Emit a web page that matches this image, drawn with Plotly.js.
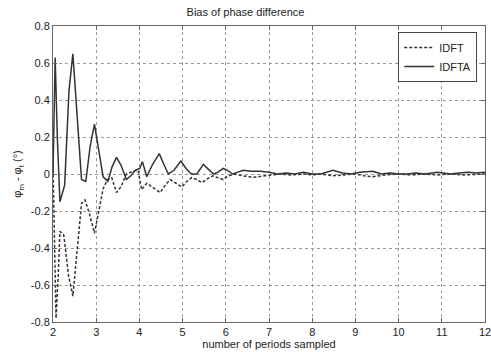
<!DOCTYPE html>
<html>
<head>
<meta charset="utf-8">
<script src="https://cdn.plot.ly/plotly-3.0.1.min.js"></script>
<style>html,body{margin:0;padding:0;background:#fff;}#chart{width:491px;height:352px;}</style>
</head>
<body>
<div id="chart"></div>
<script>
// IDFTA (solid)
const xIDFTA = [2.00,2.05,2.10,2.16,2.27,2.37,2.46,2.56,2.66,2.76,2.86,2.96,3.06,3.16,3.27,3.37,3.47,3.57,3.70,3.80,3.90,4.01,4.07,4.17,4.30,4.46,4.57,4.67,4.80,4.96,5.08,5.20,5.33,5.48,5.60,5.72,5.82,5.94,6.04,6.16,6.28,6.40,6.60,6.80,7.00,7.20,7.40,7.60,7.80,8.00,8.20,8.48,8.70,8.90,9.10,9.40,9.60,9.80,10.00,10.20,10.40,10.60,10.90,11.20,11.40,11.60,11.80,12.00];
const yIDFTA = [0.00,0.63,0.20,-0.15,-0.06,0.45,0.65,0.30,-0.03,-0.04,0.15,0.27,0.13,-0.015,-0.04,0.04,0.09,0.05,-0.03,-0.01,0.02,0.03,0.067,-0.015,0.05,0.11,0.05,0.00,0.02,0.07,0.03,0.00,0.00,0.052,0.025,0.00,0.01,0.03,0.02,0.00,0.01,0.02,0.015,0.015,0.01,0.00,0.005,0.00,0.01,0.00,0.00,0.02,0.005,0.00,0.01,0.015,0.00,0.005,0.00,0.00,0.005,0.00,0.01,0.00,0.005,0.01,0.005,0.01];
// IDFT (dashed)
const xIDFT = [2.00,2.03,2.07,2.12,2.16,2.25,2.36,2.46,2.56,2.66,2.74,2.85,2.96,3.06,3.16,3.26,3.36,3.47,3.57,3.70,3.85,3.97,4.05,4.17,4.30,4.48,4.60,4.71,4.85,4.98,5.10,5.21,5.33,5.44,5.58,5.70,5.82,5.94,6.06,6.20,6.40,6.63,6.90,7.25,7.50,7.80,8.00,8.20,8.48,8.70,9.00,9.20,9.40,9.70,10.00,10.30,10.60,10.90,11.20,11.50,11.80,12.00];
const yIDFT = [0.05,-0.40,-0.78,-0.55,-0.31,-0.33,-0.55,-0.66,-0.40,-0.16,-0.14,-0.22,-0.32,-0.20,-0.08,-0.03,-0.02,-0.10,-0.07,0.00,0.015,0.02,-0.085,-0.05,-0.07,-0.10,-0.06,-0.03,-0.05,-0.07,-0.04,-0.02,-0.03,-0.047,-0.025,-0.01,-0.02,-0.03,-0.01,0.00,-0.01,-0.018,-0.01,0.00,-0.005,0.00,-0.005,0.00,-0.01,-0.005,0.00,-0.01,-0.015,-0.005,0.00,-0.005,0.00,-0.005,0.00,-0.005,0.00,0.00];

const xTicks = [2,3,4,5,6,7,8,9,10,11,12];
const yTicks = [-0.8,-0.6,-0.4,-0.2,0,0.2,0.4,0.6,0.8];
const yTickLabels = ['-0.8','-0.6','-0.4','-0.2','0','0.2','0.4','0.6','0.8'];

const font = {family: 'Liberation Sans, Arial, sans-serif', size: 11, color: '#222'};

const traces = [
  {x: xIDFT, y: yIDFT, type: 'scatter', mode: 'lines', name: 'IDFT',
   line: {color: '#333', width: 1.5, dash: '3px,2px'}},
  {x: xIDFTA, y: yIDFTA, type: 'scatter', mode: 'lines', name: 'IDFTA',
   line: {color: '#333', width: 1.5}}
];

const axisCommon = {
  showline: true, mirror: 'ticks', linecolor: '#666', linewidth: 1,
  ticks: 'inside', ticklen: 4, tickcolor: '#666',
  showgrid: true, gridcolor: '#999', griddash: 'dot', gridwidth: 1,
  zeroline: false, tickfont: font, ticklabeloverflow: 'allow', automargin: false
};

const layout = {
  width: 491, height: 352,
  margin: {l: 53, r: 6, t: 26, b: 30},
  paper_bgcolor: '#fff', plot_bgcolor: '#fff',
  font: font,
  title: {text: 'Bias of phase difference', font: font, x: 0.5, xanchor: 'center', y: 0.977, yanchor: 'top'},
  xaxis: Object.assign({}, axisCommon, {
    range: [2, 12], tickvals: xTicks, ticktext: xTicks.map(String), ticklabelstandoff: 0,
    title: {text: 'number of periods sampled', font: font, standoff: 0}
  }),
  yaxis: Object.assign({}, axisCommon, {
    range: [-0.8, 0.8], tickvals: yTicks, ticktext: yTickLabels,
    title: {text: 'φ<sub>m</sub> - φ<sub>t</sub> (°)', font: font, standoff: 6}
  }),
  legend: {
    x: 0.982, xanchor: 'right', y: 0.98, yanchor: 'top',
    bgcolor: '#fff', bordercolor: '#444', borderwidth: 1,
    font: font, tracegroupgap: 0, itemwidth: 30
  },
  showlegend: true
};

Plotly.newPlot('chart', traces, layout, {displayModeBar: false, staticPlot: true});
</script>
</body>
</html>
